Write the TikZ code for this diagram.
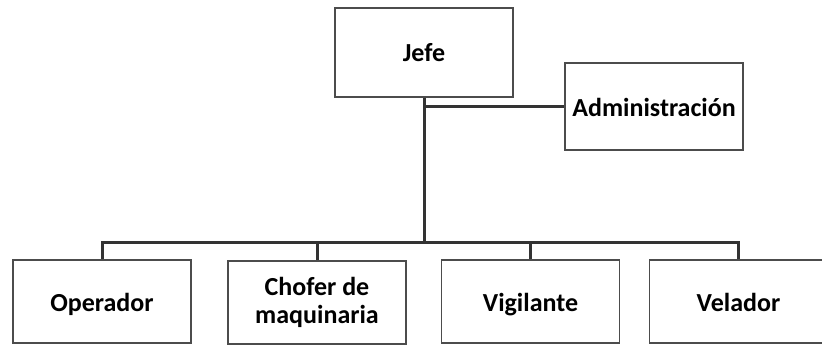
\documentclass[tikz,border=0pt]{standalone}
\usepackage{fontspec}
\setmainfont{Carlito}
\usepackage{tikz}
\usetikzlibrary{positioning, calc}
\tikzset{
    post/.style={rectangle, draw=black!70, line width=1.6pt, fill=white, minimum width=178pt, minimum height=86pt, font=\bfseries\fontsize{26}{28}\selectfont, inner sep=2pt},
    oneline/.style={text height=22pt, text depth=3pt},
    staff/.style={post, minimum height=83pt},
    conn/.style={draw=black!80, line width=3pt}
}
\begin{document}
\begin{tikzpicture}[x=1pt, y=-1pt]
    \useasboundingbox (0,0) rectangle (822,345);

    \node[post, oneline, minimum height=89pt] (jefe) at (424,52.5) {Jefe};
    \node[post, oneline, minimum height=87pt] (admin) at (654,106.5) {Administración};

    \node[staff, oneline] (oper) at (102,301.5) {Operador};
    \node[staff, align=center] (chofer) at (317,302.5) {Chofer de\\maquinaria};
    \node[staff, oneline] (vigil) at (530.5,301.5) {Vigilante};
    \node[staff, oneline] (velad) at (738.5,301.5) {Velador};

    \coordinate (bus) at (424,242);

    \draw[conn] (jefe.south) -- (bus);
    \draw[conn] (jefe.south |- admin.west) -- (admin.west);
    \draw[conn] (oper.north) |- (bus) -| (velad.north);
    \draw[conn] (chofer.north) -- (chofer.north |- bus);
    \draw[conn] (vigil.north) -- (vigil.north |- bus);
\end{tikzpicture}
\end{document}
